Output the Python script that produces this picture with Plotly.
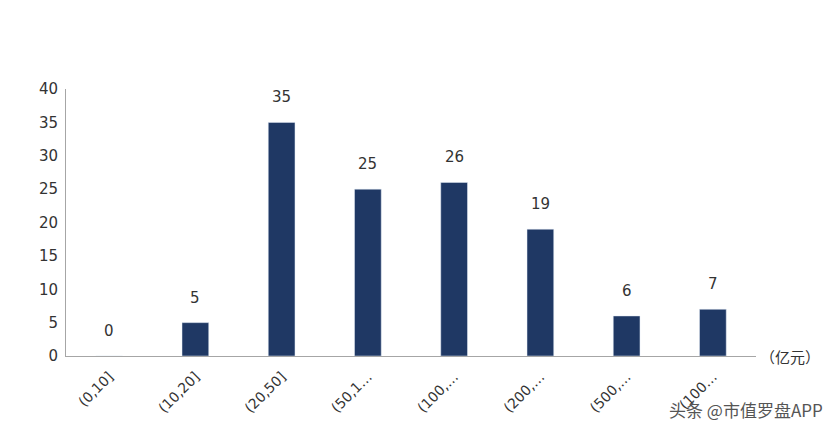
import plotly.graph_objects as go

categories = ["(0,10]", "(10,20]", "(20,50]", "(50,1…", "(100,…", "(200,…", "(500,…", "(100…"]
values = [0, 5, 35, 25, 26, 19, 6, 7]

fig = go.Figure(go.Bar(
    x=categories, y=values, marker_color="#1F3864", width=0.31, cliponaxis=False))

anns = [dict(x=c, y=v, xref="x", yref="y", text=str(v), showarrow=False,
             yanchor="bottom", yshift=14,
             font=dict(size=15, color="#333333")) for c, v in zip(categories, values)]
anns += [
    dict(text="（亿元）", x=1.0, xref="paper", y=0, yref="y", xanchor="left",
         yanchor="middle", showarrow=False, xshift=2,
         font=dict(family="Noto Sans CJK SC", size=15, color="#333333")),
    dict(text="头条 @市值罗盘APP", x=1.1, y=-0.2, xref="paper", yref="paper",
         xanchor="right", yanchor="middle", showarrow=False,
         font=dict(family="Noto Sans CJK SC", size=17, color="#555555")),
]

fig.update_layout(
    width=831, height=424, plot_bgcolor="white", paper_bgcolor="white",
    margin=dict(l=58, r=83, t=81, b=76), showlegend=False,
    font=dict(family="DejaVu Sans", size=14, color="#333333"),
    xaxis=dict(showline=True, linecolor="#A6A6A6", tickangle=-45, automargin=False,
               ticks="outside", tickcolor="white", ticklen=6,
               tickfont=dict(size=14)),
    yaxis=dict(range=[0, 40], dtick=5, showline=True, linecolor="#A6A6A6",
               showgrid=False, zeroline=False, tickfont=dict(size=15), automargin=False,
               ticks="outside", ticklen=4, tickcolor="white"),
    annotations=anns)
fig.write_html("out.html")
